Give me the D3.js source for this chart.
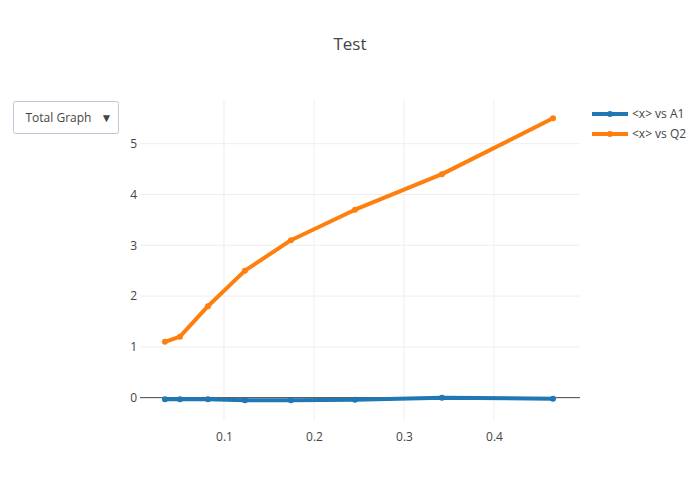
<!DOCTYPE html>
<html>
<head>
<meta charset="utf-8">
<script src="https://cdn.jsdelivr.net/npm/d3@7"></script>
<style>
  body { margin: 0; background: #fff; }
  svg { font-family: "Open Sans", sans-serif; }
</style>
</head>
<body>
<svg id="chart" width="700" height="500"></svg>
<script>
const xValues = [0.0344, 0.0511, 0.0822, 0.1233, 0.1744, 0.2456, 0.3422, 0.4656];
const a1Values = [-0.03, -0.03, -0.03, -0.05, -0.05, -0.04, 0.0, -0.02];
const q2Values = [1.1, 1.2, 1.8, 2.5, 3.1, 3.7, 4.4, 5.5];
const seriesNames = ["<x> vs A1", "<x> vs Q2"];
const seriesColors = ["#1f77b4", "#ff7f0e"];
const xTicks = [0.1, 0.2, 0.3, 0.4];
const yTicks = [0, 1, 2, 3, 4, 5];

const svg = d3.select("#chart");
const margin = { top: 100, right: 120, bottom: 80, left: 140 };
const width = 700 - margin.left - margin.right,
  height = 500 - margin.top - margin.bottom;

const x = d3.scaleLinear().domain([0.0067, 0.4956]).range([0, width]);
const y = d3.scaleLinear().domain([-0.44, 5.86]).range([height, 0]);

const g = svg.append("g")
  .attr("transform", `translate(${margin.left},${margin.top})`);

// grid
g.append("g")
  .selectAll("line")
  .data(xTicks)
  .join("line")
  .attr("x1", d => x(d)).attr("x2", d => x(d))
  .attr("y1", 0).attr("y2", height)
  .attr("stroke", "#eee");

g.append("g")
  .selectAll("line")
  .data(yTicks.filter(d => d !== 0))
  .join("line")
  .attr("x1", 0).attr("x2", width)
  .attr("y1", d => y(d)).attr("y2", d => y(d))
  .attr("stroke", "#eee");

// zero line
g.append("line")
  .attr("x1", 0).attr("x2", width)
  .attr("y1", y(0)).attr("y2", y(0))
  .attr("stroke", "#444");

// axes (labels only)
const xAxis = g.append("g")
  .attr("transform", `translate(0,${height})`)
  .call(d3.axisBottom(x).tickValues(xTicks).tickSize(0).tickPadding(12).tickFormat(d3.format("")));
const yAxis = g.append("g")
  .call(d3.axisLeft(y).tickValues(yTicks).tickSize(0).tickPadding(3).tickFormat(d3.format("d")));
[xAxis, yAxis].forEach(a => {
  a.select(".domain").remove();
  a.selectAll("text").attr("fill", "#444").style("font-size", "12px").style("font-family", "'Open Sans', sans-serif");
});

const series = [a1Values, q2Values];
const line = d3.line().x((d, i) => x(xValues[i])).y(d => y(d));

series.forEach((vals, k) => {
  g.append("path")
    .datum(vals)
    .attr("fill", "none")
    .attr("stroke", seriesColors[k])
    .attr("stroke-width", 4)
    .attr("stroke-linejoin", "round")
    .attr("d", line);
  g.selectAll(null)
    .data(vals)
    .join("circle")
    .attr("cx", (d, i) => x(xValues[i]))
    .attr("cy", d => y(d))
    .attr("r", 3)
    .attr("fill", seriesColors[k]);
});

// title
svg.append("text")
  .attr("x", 350).attr("y", 50)
  .attr("text-anchor", "middle")
  .attr("fill", "#444")
  .style("font-size", "17px")
  .text("Test");

// legend
const legend = svg.append("g").attr("transform", "translate(592,114)");
seriesNames.forEach((name, k) => {
  const item = legend.append("g").attr("transform", `translate(0,${k * 20})`);
  item.append("line")
    .attr("x1", 0).attr("x2", 36)
    .attr("stroke", seriesColors[k]).attr("stroke-width", 4);
  item.append("circle").attr("cx", 18).attr("r", 3).attr("fill", seriesColors[k]);
  item.append("text")
    .attr("x", 40).attr("y", 4)
    .attr("fill", "#444")
    .style("font-size", "12px")
    .text(name);
});

// dropdown menu
const menu = svg.append("g").attr("transform", "translate(13.5,101.5)");
menu.append("rect")
  .attr("width", 105).attr("height", 32)
  .attr("rx", 2)
  .attr("fill", "#fff")
  .attr("stroke", "#bec8d9");
menu.append("text")
  .attr("x", 12).attr("y", 20)
  .attr("fill", "#444")
  .style("font-size", "12px")
  .text("Total Graph");
menu.append("text")
  .attr("x", 99).attr("y", 20)
  .attr("text-anchor", "end")
  .attr("fill", "#444")
  .style("font-size", "12px")
  .text("▼");
</script>
</body>
</html>
